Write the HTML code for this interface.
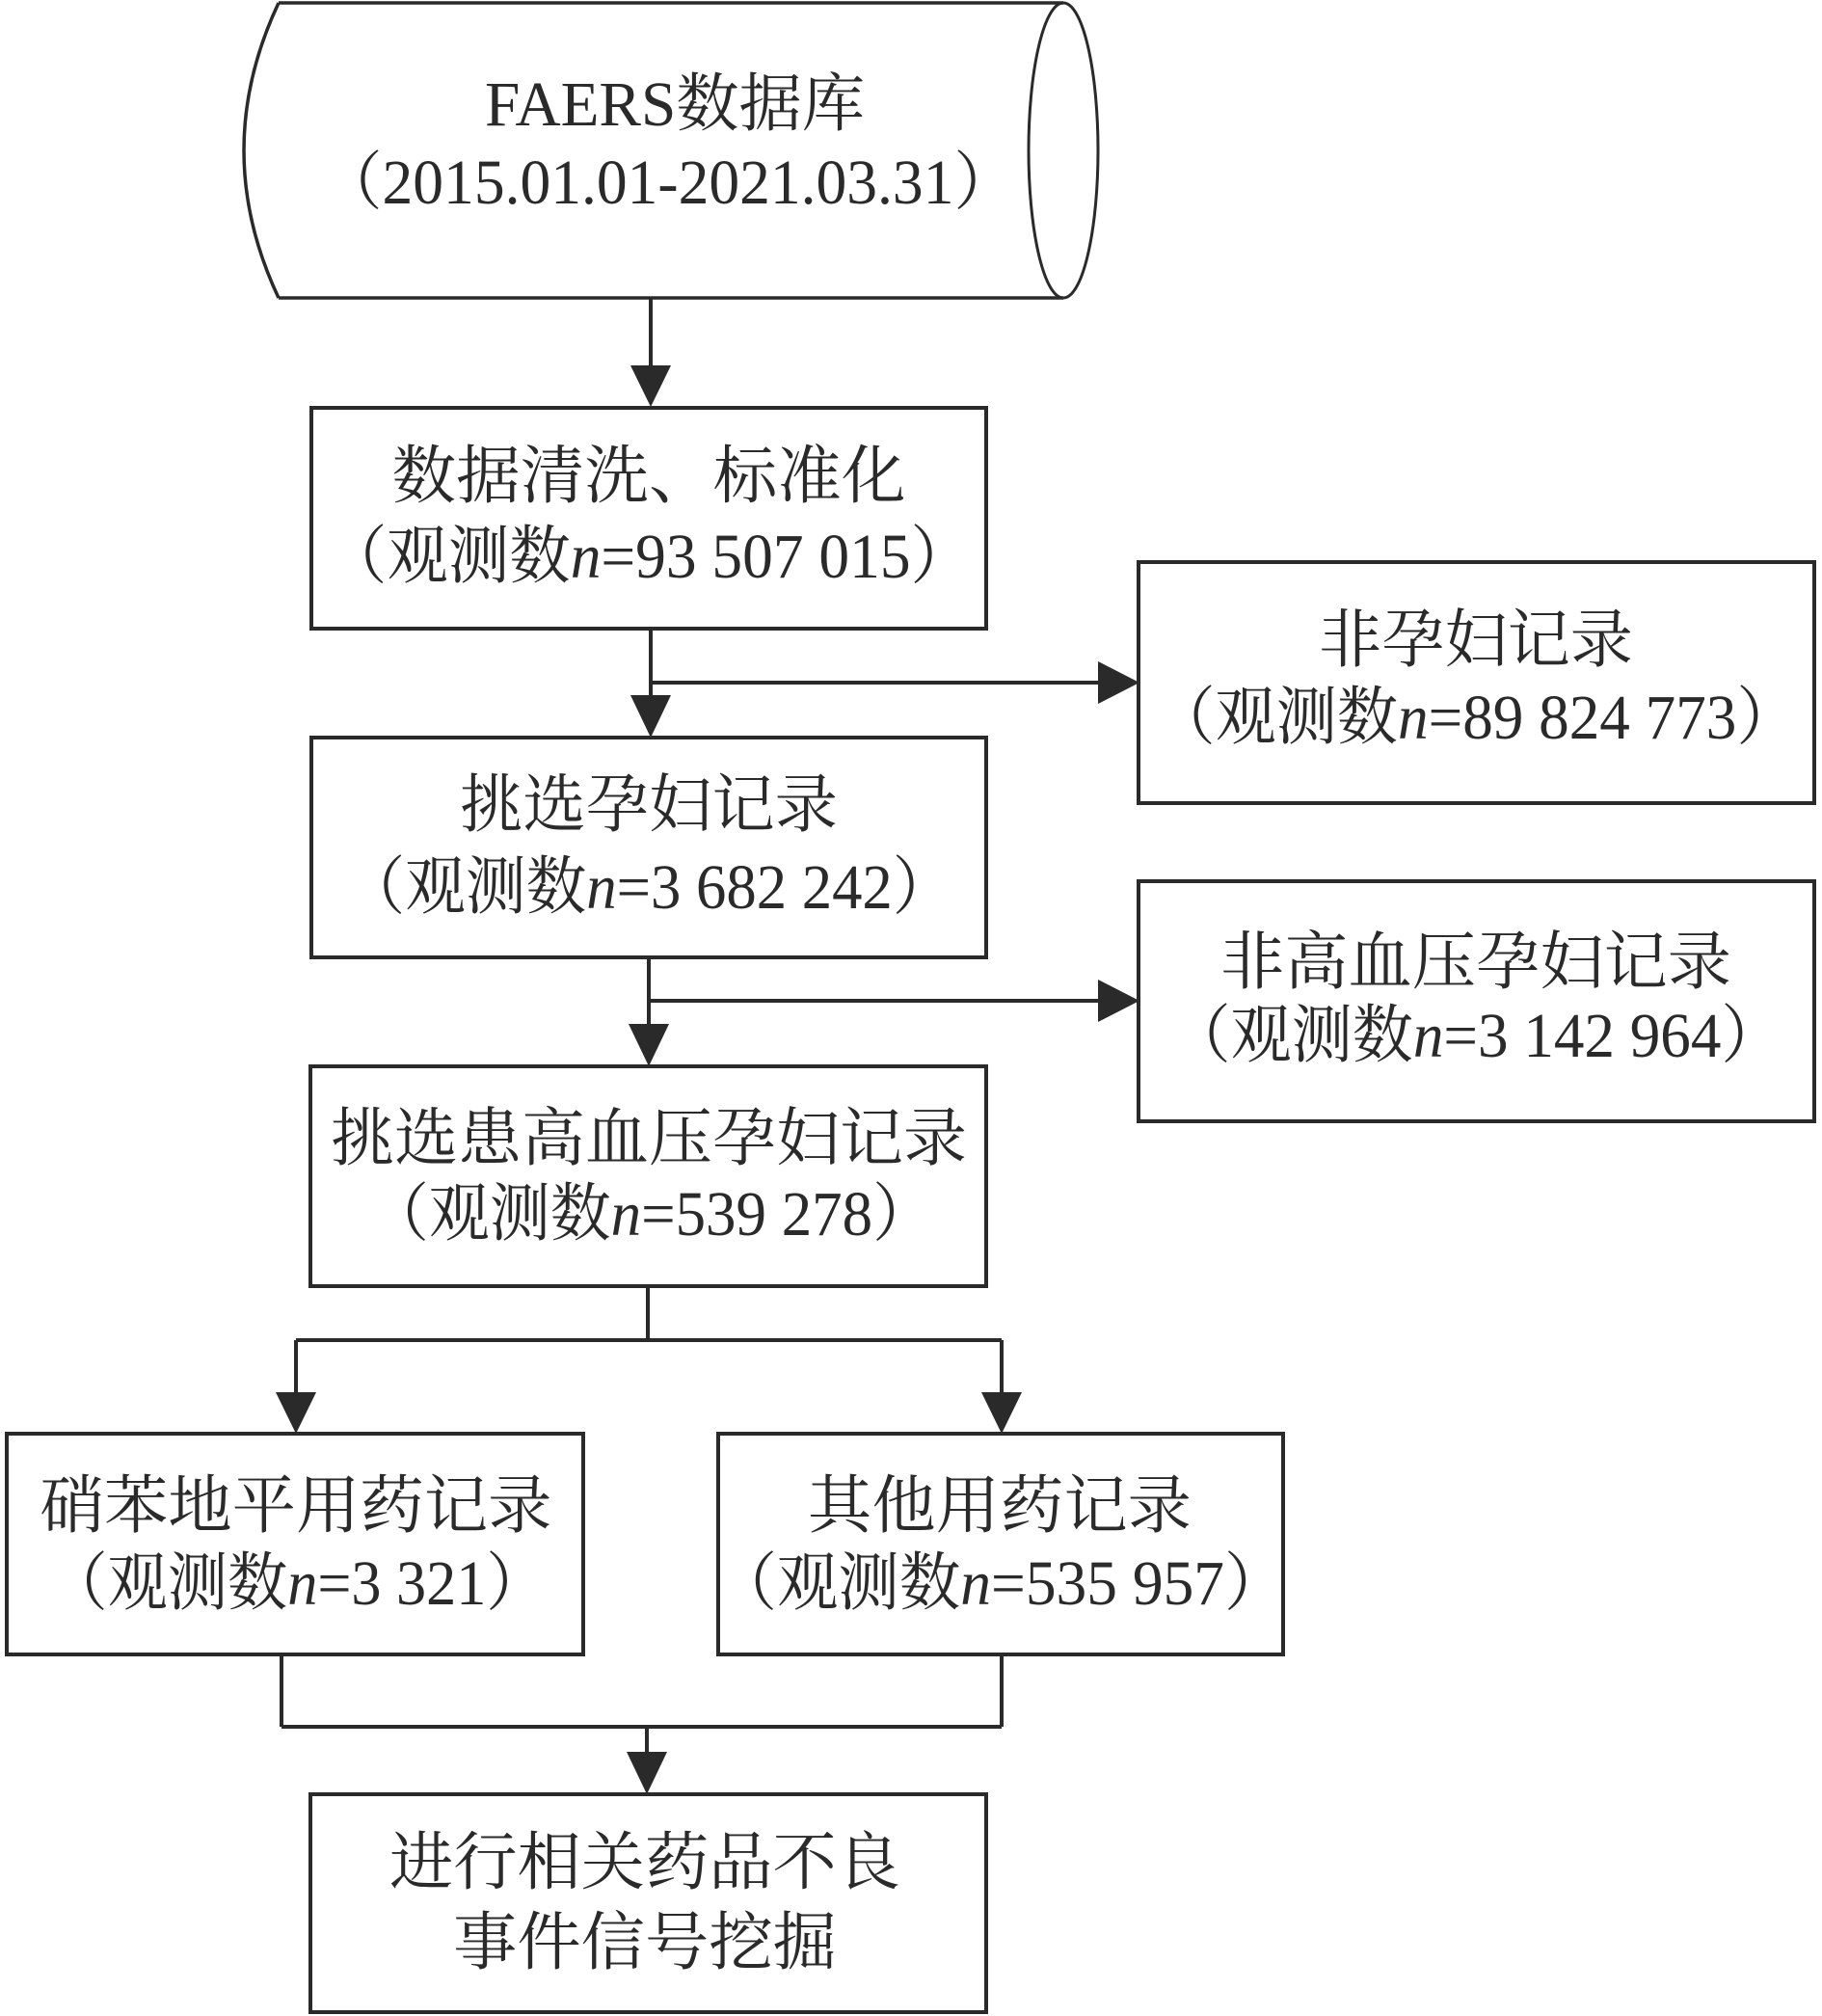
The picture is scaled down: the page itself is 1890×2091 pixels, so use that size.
<!DOCTYPE html>
<html><head><meta charset="utf-8"><style>
html,body{margin:0;padding:0;background:#fff;}
svg{display:block;}
text{font-family:"Liberation Serif","Noto Serif CJK SC",serif;font-size:66px;fill:#2a2a2a;}
</style></head><body>
<svg width="1890" height="2091" viewBox="0 0 1890 2091" xmlns="http://www.w3.org/2000/svg">
<g stroke="#2a2a2a" stroke-width="4" fill="none">
<!-- cylinder -->
<path d="M289,3 L1103,3 M289,309 L1103,309 M289,3 Q217,156 289,309" stroke-width="3.5"/>
<ellipse cx="1103" cy="156" rx="36" ry="153" stroke-width="3"/>
<!-- boxes -->
<rect x="323" y="423" width="700" height="229"/>
<rect x="1181" y="583" width="701" height="250"/>
<rect x="323" y="765" width="700" height="228"/>
<rect x="1181" y="914" width="701" height="249"/>
<rect x="322" y="1106" width="701" height="228"/>
<rect x="7" y="1487" width="598" height="229"/>
<rect x="745" y="1487" width="586" height="229"/>
<rect x="322" y="1861" width="701" height="226"/>
<!-- connectors -->
<line x1="675" y1="309" x2="675" y2="385"/>
<line x1="675" y1="652" x2="675" y2="725"/>
<line x1="675" y1="708" x2="1145" y2="708"/>
<line x1="673" y1="993" x2="673" y2="1068"/>
<line x1="673" y1="1038" x2="1145" y2="1038"/>
<line x1="672" y1="1334" x2="672" y2="1390"/>
<line x1="307" y1="1390" x2="1039" y2="1390"/>
<line x1="307" y1="1390" x2="307" y2="1450"/>
<line x1="1039" y1="1390" x2="1039" y2="1450"/>
<line x1="292" y1="1716" x2="292" y2="1791"/>
<line x1="1039" y1="1716" x2="1039" y2="1791"/>
<line x1="292" y1="1791" x2="1039" y2="1791"/>
<line x1="671" y1="1791" x2="671" y2="1822"/>
</g>
<g fill="#2a2a2a">
<polygon points="654,379 696,379 675,422"/>
<polygon points="654,721 696,721 675,765"/>
<polygon points="1139,686 1139,730 1182,708"/>
<polygon points="652,1062 694,1062 673,1106"/>
<polygon points="1139,1016 1139,1060 1182,1038"/>
<polygon points="286,1444 328,1444 307,1487"/>
<polygon points="1018,1444 1060,1444 1039,1487"/>
<polygon points="650,1817 692,1817 671,1861"/>
</g>
<g text-anchor="middle">
<text x="700" y="130" textLength="394" lengthAdjust="spacingAndGlyphs">FAERS数据库</text>
<text x="693" y="211" textLength="720" lengthAdjust="spacingAndGlyphs">（2015.01.01-2021.03.31）</text>
<text x="673" y="516" textLength="533" lengthAdjust="spacingAndGlyphs">数据清洗、标准化</text>
<text x="673" y="599" textLength="670" lengthAdjust="spacingAndGlyphs">（观测数<tspan font-style="italic">n</tspan>=93 507 015）</text>
<text x="1531" y="686" textLength="326" lengthAdjust="spacingAndGlyphs">非孕妇记录</text>
<text x="1531" y="766" textLength="667" lengthAdjust="spacingAndGlyphs">（观测数<tspan font-style="italic">n</tspan>=89 824 773）</text>
<text x="673" y="857" textLength="392" lengthAdjust="spacingAndGlyphs">挑选孕妇记录</text>
<text x="673" y="942" textLength="631" lengthAdjust="spacingAndGlyphs">（观测数<tspan font-style="italic">n</tspan>=3 682 242）</text>
<text x="1531" y="1020" textLength="530" lengthAdjust="spacingAndGlyphs">非高血压孕妇记录</text>
<text x="1531" y="1096" textLength="635" lengthAdjust="spacingAndGlyphs">（观测数<tspan font-style="italic">n</tspan>=3 142 964）</text>
<text x="673" y="1203" textLength="660" lengthAdjust="spacingAndGlyphs">挑选患高血压孕妇记录</text>
<text x="675" y="1281" textLength="586" lengthAdjust="spacingAndGlyphs">（观测数<tspan font-style="italic">n</tspan>=539 278）</text>
<text x="307" y="1584" textLength="531" lengthAdjust="spacingAndGlyphs">硝苯地平用药记录</text>
<text x="308" y="1664" textLength="517" lengthAdjust="spacingAndGlyphs">（观测数<tspan font-style="italic">n</tspan>=3 321）</text>
<text x="1037" y="1584" textLength="398" lengthAdjust="spacingAndGlyphs">其他用药记录</text>
<text x="1038" y="1664" textLength="591" lengthAdjust="spacingAndGlyphs">（观测数<tspan font-style="italic">n</tspan>=535 957）</text>
<text x="669" y="1954" textLength="530" lengthAdjust="spacingAndGlyphs">进行相关药品不良</text>
<text x="669" y="2037" textLength="398" lengthAdjust="spacingAndGlyphs">事件信号挖掘</text>
</g>
</svg>
</body></html>
